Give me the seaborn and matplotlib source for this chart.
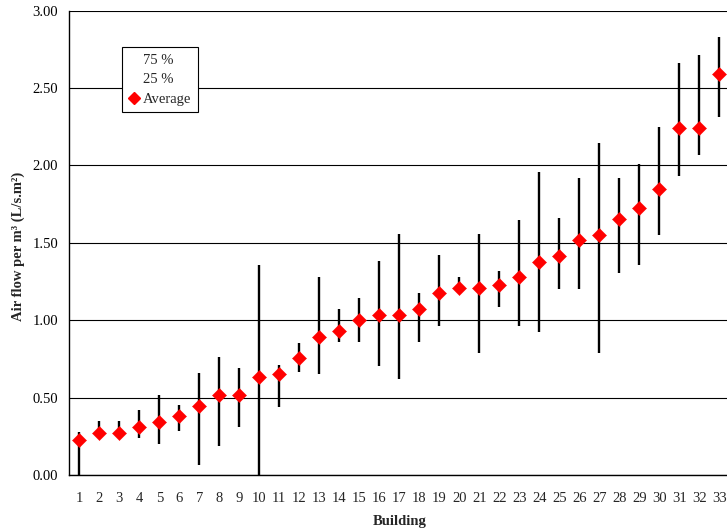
import numpy as np
import pandas as pd
import matplotlib
matplotlib.use("Agg")
import matplotlib.pyplot as plt
from matplotlib.lines import Line2D
import seaborn as sns

# ---- data ----
buildings = list(range(1, 34))
building_labels = [str(b) for b in buildings]
average = [0.225, 0.274, 0.274, 0.312, 0.345, 0.378, 0.448, 0.517, 0.517, 0.636,
           0.655, 0.758, 0.894, 0.931, 1.000, 1.036, 1.036, 1.071, 1.175, 1.207,
           1.207, 1.228, 1.279, 1.379, 1.416, 1.519, 1.552, 1.655, 1.726, 1.847,
           2.245, 2.245, 2.588]
pct75 = [0.276, 0.347, 0.347, 0.420, 0.520, 0.450, 0.657, 0.761, 0.694, 1.360,
         0.709, 0.850, 1.280, 1.073, 1.142, 1.380, 1.556, 1.177, 1.420, 1.280,
         1.556, 1.317, 1.645, 1.955, 1.660, 1.918, 2.145, 1.918, 2.009, 2.248,
         2.662, 2.711, 2.832]
pct25 = [0.000, 0.260, 0.260, 0.237, 0.200, 0.286, 0.065, 0.188, 0.308, 0.000,
         0.440, 0.668, 0.651, 0.858, 0.858, 0.703, 0.619, 0.858, 0.961, 1.190,
         0.789, 1.084, 0.962, 0.925, 1.203, 1.203, 0.791, 1.308, 1.358, 1.550,
         1.929, 2.069, 2.310]
y_ticks = [0.0, 0.5, 1.0, 1.5, 2.0, 2.5, 3.0]

df = pd.DataFrame({"Building": buildings, "Average": average,
                   "p25": pct25, "p75": pct75})

# ---- style ----
sns.set_style("white")
plt.rcParams["font.family"] = ["Liberation Serif", "DejaVu Serif"]
plt.rcParams["font.size"] = 10.5

W, H = 727, 532
fig = plt.figure(figsize=(W / 100, H / 100), dpi=100)
left_px, right_px = 69.3, 729.3
top_px, bot_px = 10.7, 475.0
ax = fig.add_axes([left_px / W, 1 - bot_px / H,
                   (right_px - left_px) / W, (bot_px - top_px) / H])

# whiskers (25 % - 75 %)
ax.vlines(df["Building"], df["p25"], df["p75"], colors="black",
          linewidth=1.7, zorder=3)
# averages
sns.scatterplot(data=df, x="Building", y="Average", marker="D", s=52,
                color="#ff0000", edgecolor="#ff0000", linewidth=0.3,
                zorder=4, ax=ax, legend=False)

ax.set_xlim(0.5, 33.5)
ax.set_ylim(0, 3.0)

# y axis
ax.set_yticks(y_ticks)
ax.set_yticklabels([f"{v:.2f}" for v in y_ticks])
ax.tick_params(axis="y", direction="out", length=4.5, width=0.8,
               pad=3.5, labelsize=10.5, colors="black")
ax.yaxis.grid(True, color="black", linewidth=0.8)
ax.set_axisbelow(True)

# x axis: ticks at boundaries, labels at centres
ax.set_xticks(np.arange(0.5, 34.0, 1.0))
ax.set_xticklabels([])
ax.tick_params(axis="x", which="major", direction="inout", length=8.5,
               width=0.8, colors="black")
ax.set_xticks(buildings, minor=True)
ax.set_xticklabels(building_labels, minor=True)
ax.tick_params(axis="x", which="minor", length=0, pad=12, labelsize=10.5)

for s in ["top", "right"]:
    ax.spines[s].set_visible(False)
for s in ["left", "bottom"]:
    ax.spines[s].set_color("black")
    ax.spines[s].set_linewidth(1.0)

ax.set_xlabel("Building", fontweight="bold", fontsize=10.5, va="center")
ax.xaxis.set_label_coords(0.5, -(521 - bot_px) / (bot_px - top_px))
ax.set_ylabel("Air flow per m³ (L/s.m²)", fontweight="bold", fontsize=10.5,
              va="center")
ax.yaxis.set_label_coords((18.5 - left_px) / (right_px - left_px),
                          (bot_px - 246) / (bot_px - top_px))

# legend
handles = [Line2D([], [], linestyle="none"),
           Line2D([], [], linestyle="none"),
           Line2D([], [], linestyle="none", marker="D", markersize=6.5,
                  color="#ff0000")]
leg = ax.legend(handles, ["75 %", "25 %", "Average"], loc="upper left",
                bbox_to_anchor=(122.3 / W, 1 - 47.3 / H),
                bbox_transform=fig.transFigure, borderaxespad=0,
                frameon=True, fancybox=False, framealpha=1,
                edgecolor="black", handlelength=0.7, handletextpad=0.25,
                labelspacing=0.42, borderpad=0.45, fontsize=10.5)
leg.get_frame().set_linewidth(0.8)

fig.savefig("out.png", dpi=100)
